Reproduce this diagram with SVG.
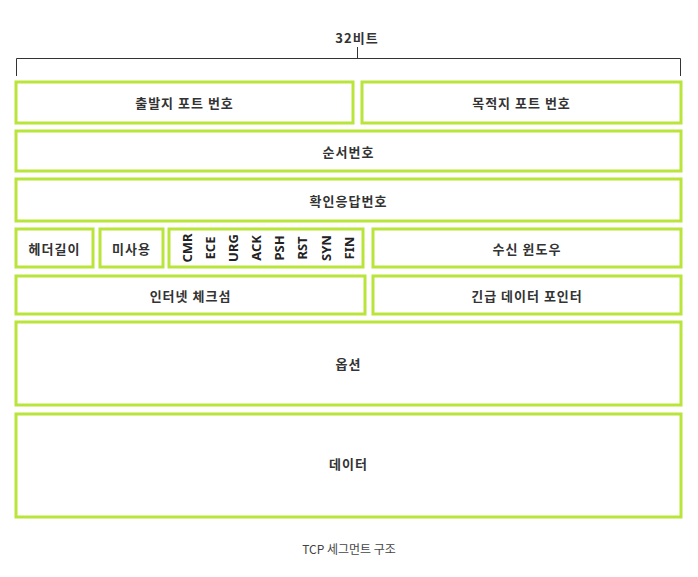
<svg xmlns="http://www.w3.org/2000/svg" width="698" height="577" viewBox="0 0 698 577">
<style>
.box{fill:#fff;stroke:#b9e43a;stroke-width:3}
.lbl{font-family:"Noto Sans CJK KR","Noto Sans",sans-serif;font-weight:bold;font-size:13px;letter-spacing:1px;fill:#333;text-anchor:middle;dominant-baseline:central}
.flag{font-family:"Noto Sans","Liberation Sans",sans-serif;font-weight:bold;font-size:13px;fill:#222;text-anchor:middle;dominant-baseline:central}
.br{fill:none;stroke:#333;stroke-width:1}
.cap{font-family:"Noto Sans CJK KR","Noto Sans",sans-serif;font-size:12px;fill:#444;text-anchor:middle;dominant-baseline:central}
</style>
<rect width="698" height="577" fill="#fff"/>
<g id="bracket">
<text class="lbl" x="357" y="37">32비트</text>
<path class="br" d="M16.5,76 V58.5 H680.5 V76 M357.5,47 V58.5"/>
</g>
<g id="src-port"><rect class="box" x="16" y="82" width="337" height="41"/><text class="lbl" x="184.5" y="102.5">출발지 포트 번호</text></g>
<g id="dst-port"><rect class="box" x="362" y="82" width="319" height="41"/><text class="lbl" x="521.5" y="102.5">목적지 포트 번호</text></g>
<g id="seq"><rect class="box" x="16" y="131" width="665" height="40"/><text class="lbl" x="348.5" y="151">순서번호</text></g>
<g id="ack"><rect class="box" x="16" y="179" width="665" height="42"/><text class="lbl" x="348.5" y="200">확인응답번호</text></g>
<g id="hlen"><rect class="box" x="16" y="229" width="77" height="38"/><text class="lbl" x="54.5" y="248">헤더길이</text></g>
<g id="unused"><rect class="box" x="100" y="229" width="63" height="38"/><text class="lbl" x="131.5" y="248">미사용</text></g>
<g id="flags"><rect class="box" x="169" y="229" width="194" height="38"/>
<text class="flag" transform="translate(187,248) rotate(-90)">CMR</text>
<text class="flag" transform="translate(210,248) rotate(-90)">ECE</text>
<text class="flag" transform="translate(233,248) rotate(-90)">URG</text>
<text class="flag" transform="translate(256,248) rotate(-90)">ACK</text>
<text class="flag" transform="translate(279,248) rotate(-90)">PSH</text>
<text class="flag" transform="translate(302,248) rotate(-90)">RST</text>
<text class="flag" transform="translate(326,248) rotate(-90)">SYN</text>
<text class="flag" transform="translate(349,248) rotate(-90)">FIN</text>
</g>
<g id="window"><rect class="box" x="373" y="229" width="308" height="38"/><text class="lbl" x="527" y="248">수신 윈도우</text></g>
<g id="checksum"><rect class="box" x="16" y="276" width="349" height="38"/><text class="lbl" x="190.5" y="295">인터넷 체크섬</text></g>
<g id="urgent"><rect class="box" x="373" y="276" width="308" height="38"/><text class="lbl" x="527" y="295">긴급 데이터 포인터</text></g>
<g id="options"><rect class="box" x="16" y="322" width="665" height="83"/><text class="lbl" x="348.5" y="363">옵션</text></g>
<g id="data"><rect class="box" x="16" y="414" width="665" height="103"/><text class="lbl" x="348.5" y="463">데이터</text></g>
<g id="connectors"></g>
<text class="cap" x="349" y="548">TCP 세그먼트 구조</text>
</svg>
